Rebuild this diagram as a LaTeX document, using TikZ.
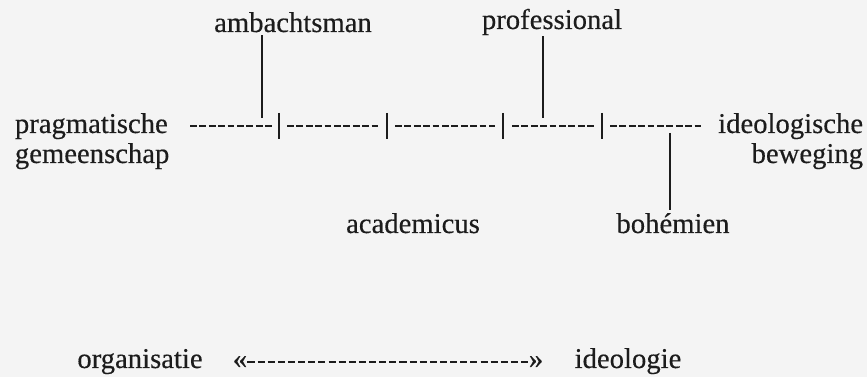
\documentclass[tikz,border=0pt]{standalone}
\usepackage{fontspec}
\setmainfont{Liberation Serif}[FakeBold=0.35]
\definecolor{paper}{HTML}{F4F4F4}
\definecolor{ink}{HTML}{1C1C1C}

\begin{document}
\begin{tikzpicture}[x=0.75pt, y=-0.75pt,
        term/.style={font=\fontsize{21.5}{26}\selectfont, text=ink, inner sep=2pt},
        dashline/.style={draw=ink, line width=1.6pt, dash pattern=on 5.1pt off 1.95pt},
        tick/.style={draw=ink, line width=1.9pt},
        lead/.style={draw=ink, line width=1.1pt}]

            % Background
            \fill[paper] (0,0) rectangle (867,377);

            \coordinate (T1) at (279,126);
            \coordinate (T2) at (387,126);
            \coordinate (T3) at (503,126);
            \coordinate (T4) at (602,126);
            \coordinate (ambfoot) at (262,118);
            \coordinate (profoot) at (543,118);
            \coordinate (bohtop) at (670,133);

            % End labels of the scale
            \node[term, anchor=base west] (prag1) at (12,133) {pragmatische};
            \node[term, anchor=base west] (prag2) at (12,163) {gemeenschap};
            \node[term, anchor=base east] (ideo1) at (866,133) {ideologische};
            \node[term, anchor=base east] (ideo2) at (866,163) {beweging};

            % Draw the scale
            \foreach \s/\n in {190/9, 287/10, 395/11, 512/9, 610/10}
                \draw[dashline] (\s,126) -- ++({\n*9.4-3},0);
            \foreach \t in {T1, T2, T3, T4}
                \draw[tick] (\t) ++(0,-13) -- ++(0,26);

            % Types on the scale
            \node[term, anchor=base] (amb) at (293,32) {ambachtsman};
            \node[term, anchor=base, inner sep=0.5pt] (pro) at (552,29) {professional};
            \node[term, anchor=base] (aca) at (413,233) {academicus};
            \node[term, anchor=base] (boh) at (673,233) {bohémien};

            \draw[lead] (amb.south -| ambfoot) -- (ambfoot);
            \draw[lead] (pro.south -| profoot) -- (profoot);
            \draw[lead] (bohtop) -- (bohtop |- boh.north);

            % Draw the axis below
            \node[term, anchor=base] (org) at (140,368) {organisatie};
            \node[term, anchor=base, inner sep=0pt] (lq) at (240,368) {«};
            \node[term, anchor=base, inner sep=0pt] (rq) at (536,368) {»};
            \node[term, anchor=base] (ideol) at (628,368) {ideologie};
            \draw[dashline, dash pattern=on 5.3pt off 2.3pt] (lq.east) -- (rq.west);

\end{tikzpicture}
\end{document}
